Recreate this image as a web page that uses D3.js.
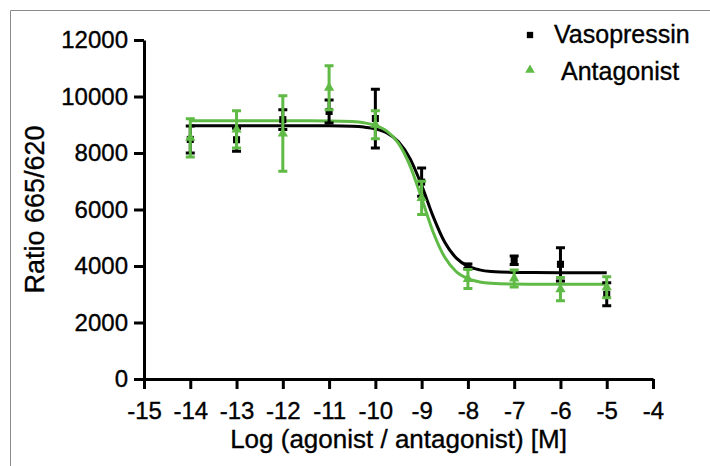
<!DOCTYPE html>
<html>
<head>
<meta charset="utf-8">
<script src="https://cdn.jsdelivr.net/npm/d3@7"></script>
<style>
  body { margin: 0; background: #fff; }
  svg { font-family: "Liberation Sans", Arial, sans-serif; }
  text { stroke: #000; stroke-width: 0.35px; }
</style>
</head>
<body>
<script>
const width = 710;
const height = 466;

// concentrations (log M)
const logDose = [-14, -13, -12, -11, -10, -9, -8, -7, -6, -5];
const vasoMean = [8480, 8470, 9180, 9470, 9220, 6970, 3990, 4200, 4060, 3000];
const vasoErr = [480, 410, 350, 410, 1040, 500, 80, 150, 590, 410];
const antaMean = [8535, 8835, 8690, 10310, 9000, 6410, 3540, 3560, 3180, 3250];
const antaErr = [675, 660, 1335, 780, 494, 590, 340, 300, 410, 370];

// fitted curves
const fitX = [-14, -12, -11, -10.5, -10.25, -10, -9.75, -9.5, -9.25, -9, -8.75, -8.5, -8.25, -8, -7.75, -7.5, -7, -6, -5];
const vasoFit = [8965, 8965, 8961, 8945, 8918, 8855, 8710, 8401, 7801, 6853, 5748, 4838, 4279, 3995, 3864, 3807, 3773, 3765, 3765];
const antaFit = [9140, 9140, 9135, 9111, 9071, 8980, 8774, 8341, 7546, 6396, 5197, 4306, 3797, 3549, 3437, 3389, 3359, 3353, 3353];

const xTicks = d3.range(-15, -3, 1);
const yTicks = [0, 2000, 4000, 6000, 8000, 10000, 12000];

const green = "#5fba46";

const svg = d3.select("body").append("svg")
    .attr("width", width)
    .attr("height", height);

// frame
svg.append("path")
    .attr("d", "M10.5,466V10.5H710")
    .attr("fill", "none")
    .attr("stroke", "#8a8a8a")
    .attr("stroke-width", 1);

const x = d3.scaleLinear().domain([-15, -4]).range([144, 653]);
const y = d3.scaleLinear().domain([0, 12000]).range([379, 40]);

const xAxis = svg.append("g")
    .attr("transform", `translate(0,${y(0)})`)
    .call(d3.axisBottom(x).tickValues(xTicks).tickSize(10).tickSizeOuter(0).tickPadding(13)
        .tickFormat(d => String(d)));

const yAxis = svg.append("g")
    .attr("transform", `translate(${x(-15)},0)`)
    .call(d3.axisLeft(y).tickValues(yTicks).tickSize(10).tickSizeOuter(0).tickPadding(6).tickFormat(d3.format("d")));

[xAxis, yAxis].forEach(g => {
    g.select(".domain").attr("stroke", "#000").attr("stroke-width", 3);
    g.selectAll(".tick line").attr("stroke", "#000").attr("stroke-width", 3);
    g.selectAll(".tick text").attr("fill", "#000").attr("font-size", 24);
});

svg.append("text")
    .attr("x", (x(-15) + x(-4)) / 2)
    .attr("y", 448)
    .attr("text-anchor", "middle")
    .attr("font-size", 26)
    .text("Log (agonist / antagonist) [M]");

svg.append("text")
    .attr("transform", `translate(44,${(y(0) + y(12000)) / 2}) rotate(-90)`)
    .attr("text-anchor", "middle")
    .attr("font-size", 27)
    .text("Ratio 665/620");

const line = d3.line()
    .x((d, i) => x(fitX[i]))
    .y(d => y(d))
    .curve(d3.curveMonotoneX);

svg.append("path")
    .attr("d", line(vasoFit))
    .attr("fill", "none")
    .attr("stroke", "#000")
    .attr("stroke-width", 3);

svg.append("path")
    .attr("d", line(antaFit))
    .attr("fill", "none")
    .attr("stroke", green)
    .attr("stroke-width", 3);

function drawSeries(means, errs, color, shape) {
    const g = svg.append("g");
    const pts = logDose.map((d, i) => ({ x: d, m: means[i], e: errs[i] }));
    g.selectAll(".bar")
        .data(pts)
        .enter()
        .append("path")
        .attr("d", d => {
            const cx = x(d.x), hi = y(d.m + d.e), lo = y(d.m - d.e);
            return `M${cx - 4.5},${hi}H${cx + 4.5}M${cx},${hi}V${lo}M${cx - 4.5},${lo}H${cx + 4.5}`;
        })
        .attr("fill", "none")
        .attr("stroke", color)
        .attr("stroke-width", 3);
    g.selectAll(".pt")
        .data(pts)
        .enter()
        .append("path")
        .attr("transform", d => `translate(${x(d.x)},${y(d.m)})`)
        .attr("d", d3.symbol().type(shape).size(shape === d3.symbolSquare ? 50 : 46))
        .attr("fill", color);
}

drawSeries(vasoMean, vasoErr, "#000", d3.symbolSquare);
drawSeries(antaMean, antaErr, green, d3.symbolTriangle);

// legend
const legend = [
    { name: "Vasopressin", color: "#000", shape: d3.symbolSquare, sx: 530, sy: 35, tx: 554, ty: 43 },
    { name: "Antagonist", color: green, shape: d3.symbolTriangle, sx: 530, sy: 70, tx: 561, ty: 80 }
];
legend.forEach(l => {
    svg.append("path")
        .attr("transform", `translate(${l.sx},${l.sy})`)
        .attr("d", d3.symbol().type(l.shape).size(40))
        .attr("fill", l.color);
    svg.append("text")
        .attr("x", l.tx)
        .attr("y", l.ty)
        .attr("font-size", 25)
        .text(l.name);
});
</script>
</body>
</html>
